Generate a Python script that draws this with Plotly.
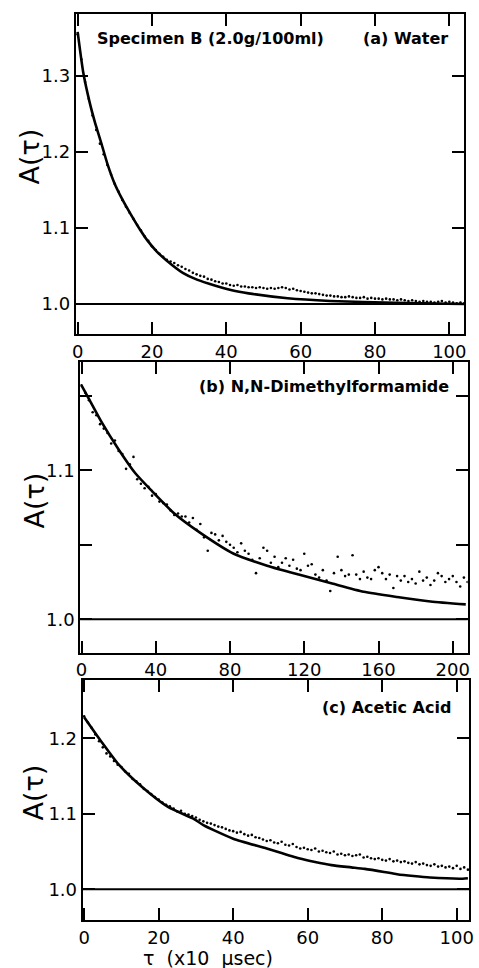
import plotly.graph_objects as go

FONT = "DejaVu Sans"

# ---------------- Panel (a) Water ----------------
a_fit_x = [0, 1.5, 3.3, 4.6, 6.4, 8.1, 9.9, 12.1, 14.3, 16.9, 18.7, 21.3, 24, 28.3,
           32.1, 37.1, 41.5, 46, 56.5, 67.9, 85.5, 104]
a_fit_y = [1.358, 1.305, 1.264, 1.240, 1.211, 1.183, 1.159, 1.137, 1.118, 1.097, 1.084,
           1.069, 1.057, 1.041, 1.032, 1.024, 1.018, 1.014, 1.0075, 1.004, 1.0015, 1.0]
a_dot_x = list(range(0, 105))
a_dot_y = [1.355, 1.322, 1.292, 1.270, 1.248, 1.229, 1.211, 1.197, 1.183, 1.170,
           1.158, 1.148, 1.137, 1.128, 1.120, 1.112, 1.104, 1.097, 1.089, 1.083,
           1.076, 1.071, 1.066, 1.062, 1.058, 1.056, 1.054, 1.051, 1.049, 1.046,
           1.044, 1.041, 1.039, 1.037, 1.036, 1.033, 1.032, 1.030, 1.029, 1.027,
           1.027, 1.025, 1.024, 1.025, 1.023, 1.023, 1.022, 1.022, 1.021, 1.022,
           1.021, 1.020, 1.021, 1.020, 1.021, 1.022, 1.021, 1.019, 1.020, 1.018,
           1.017, 1.016, 1.015, 1.014, 1.014, 1.013, 1.012, 1.011, 1.011, 1.010,
           1.010, 1.009, 1.009, 1.010, 1.009, 1.008, 1.008, 1.009, 1.007, 1.008,
           1.007, 1.007, 1.006, 1.007, 1.006, 1.006, 1.005, 1.006, 1.005, 1.004,
           1.005, 1.004, 1.003, 1.004, 1.003, 1.003, 1.002, 1.003, 1.004, 1.002,
           1.003, 1.002, 1.001, 1.002, 1.001]
a_xticks = [0, 20, 40, 60, 80, 100]
a_yticks = [1.0, 1.1, 1.2, 1.3]
a_yticktext = ["1.0", "1.1", "1.2", "1.3"]

# ---------------- Panel (b) N,N-Dimethylformamide ----------------
b_fit_x = [0, 4, 11, 20, 29, 38, 50, 64, 82, 100, 117, 135, 152, 170, 188, 207]
b_fit_y = [1.157, 1.148, 1.132, 1.114, 1.098, 1.086, 1.071, 1.058, 1.044, 1.036,
           1.030, 1.024, 1.0185, 1.015, 1.012, 1.010]
b_dot_x = list(range(0, 209, 2))
b_dot_y = [1.157, 1.152, 1.147, 1.139, 1.137, 1.131, 1.128, 1.125, 1.118, 1.120,
           1.113, 1.111, 1.101, 1.104, 1.109, 1.094, 1.091, 1.088, 1.089, 1.083,
           1.084, 1.079, 1.078, 1.077, 1.073, 1.070, 1.071, 1.069, 1.069, 1.065,
           1.068, 1.060, 1.064, 1.055, 1.046, 1.058, 1.057, 1.053, 1.056, 1.052,
           1.050, 1.048, 1.045, 1.051, 1.046, 1.044, 1.040, 1.031, 1.041, 1.048,
           1.046, 1.038, 1.042, 1.035, 1.038, 1.041, 1.036, 1.040, 1.034, 1.033,
           1.044, 1.036, 1.037, 1.030, 1.028, 1.033, 1.026, 1.019, 1.031, 1.042,
           1.033, 1.029, 1.030, 1.043, 1.030, 1.027, 1.032, 1.028, 1.027, 1.033,
           1.035, 1.031, 1.027, 1.030, 1.021, 1.029, 1.026, 1.029, 1.025, 1.027,
           1.024, 1.032, 1.026, 1.028, 1.023, 1.026, 1.031, 1.029, 1.025, 1.027,
           1.029, 1.025, 1.022, 1.028, 1.025]
b_xticks = [0, 40, 80, 120, 160, 200]
b_yticks = [1.0, 1.05, 1.1, 1.15]
b_yticktext = ["1.0", "", "1.1", ""]

# ---------------- Panel (c) Acetic Acid ----------------
c_fit_x = [0, 5, 9.3, 15.4, 22.5, 29.5, 32, 40, 49, 57.6, 62, 66.4, 71.7, 75.3,
           80.5, 84, 88.4, 92.8, 101.6, 103]
c_fit_y = [1.228, 1.193, 1.165, 1.136, 1.109, 1.093, 1.085, 1.067, 1.054, 1.041,
           1.036, 1.032, 1.029, 1.027, 1.023, 1.020, 1.0175, 1.0155, 1.014, 1.0145]
c_dot_x = list(range(0, 104))
c_dot_y = [1.229, 1.221, 1.214, 1.205, 1.196, 1.188, 1.180, 1.176, 1.170, 1.165,
           1.162, 1.156, 1.153, 1.146, 1.143, 1.139, 1.133, 1.130, 1.126, 1.122,
           1.119, 1.115, 1.112, 1.110, 1.107, 1.103, 1.104, 1.100, 1.099, 1.097,
           1.095, 1.092, 1.090, 1.088, 1.087, 1.085, 1.083, 1.082, 1.080, 1.078,
           1.077, 1.075, 1.076, 1.073, 1.071, 1.072, 1.069, 1.068, 1.066, 1.064,
           1.065, 1.062, 1.061, 1.063, 1.059, 1.058, 1.060, 1.056, 1.054, 1.055,
           1.053, 1.052, 1.054, 1.050, 1.051, 1.049, 1.048, 1.050, 1.046, 1.047,
           1.045, 1.046, 1.044, 1.045, 1.046, 1.042, 1.043, 1.041, 1.040, 1.041,
           1.039, 1.038, 1.040, 1.037, 1.038, 1.036, 1.037, 1.035, 1.034, 1.036,
           1.033, 1.034, 1.032, 1.031, 1.033, 1.030, 1.031, 1.029, 1.030, 1.028,
           1.031, 1.027, 1.029, 1.026]
c_xticks = [0, 20, 40, 60, 80, 100]
c_yticks = [1.0, 1.1, 1.2]
c_yticktext = ["1.0", "1.1", "1.2"]

W, H = 479, 968

fig = go.Figure()
panels = [
    (a_dot_x, a_dot_y, a_fit_x, a_fit_y, "x", "y"),
    (b_dot_x, b_dot_y, b_fit_x, b_fit_y, "x2", "y2"),
    (c_dot_x, c_dot_y, c_fit_x, c_fit_y, "x3", "y3"),
]
for dx, dy, fx, fy, xa, ya in panels:
    fig.add_trace(go.Scatter(x=dx, y=dy, mode="markers", xaxis=xa, yaxis=ya,
                             marker=dict(size=2.6, color="black"), hoverinfo="skip"))
    fig.add_trace(go.Scatter(x=fx, y=fy, mode="lines", xaxis=xa, yaxis=ya,
                             line=dict(color="black", width=2.6, shape="spline", smoothing=0.6),
                             hoverinfo="skip"))
    fig.add_shape(type="line", xref=f"{xa} domain", yref=ya, x0=0, x1=1, y0=1.0, y1=1.0,
                  line=dict(color="black", width=2))

common = dict(showline=True, linecolor="black", linewidth=2, mirror="allticks",
              ticks="inside", ticklen=12, tickwidth=2, tickcolor="black",
              showgrid=False, zeroline=False,
              tickfont=dict(family=FONT, size=18, color="black"))

def px_x(p):
    return p / W

def px_y(p):
    return 1 - p / H

fig.update_layout(
    width=W, height=H, margin=dict(l=0, r=0, t=0, b=0),
    paper_bgcolor="white", plot_bgcolor="white", showlegend=False,
    xaxis=dict(domain=[px_x(73), px_x(468)], range=[-0.5, 104], anchor="y",
               tickvals=a_xticks, **common),
    yaxis=dict(domain=[px_y(334), px_y(14)], range=[0.9605, 1.3816], anchor="x",
               tickvals=a_yticks, ticktext=a_yticktext, **common),
    xaxis2=dict(domain=[px_x(77.5), px_x(471.5)], range=[-0.7, 208], anchor="y2",
                tickvals=b_xticks, **common),
    yaxis2=dict(domain=[px_y(652.7), px_y(361.7)], range=[0.9776, 1.1729], anchor="x2",
                tickvals=b_yticks, ticktext=b_yticktext, **common),
    xaxis3=dict(domain=[px_x(80), px_x(473.3)], range=[-0.4, 103.4], anchor="y3",
                tickvals=c_xticks, **common),
    yaxis3=dict(domain=[px_y(920), px_y(680)], range=[0.9593, 1.2772], anchor="x3",
                tickvals=c_yticks, ticktext=c_yticktext, **common),
)

def note(text, x, y, xanchor, size=16, angle=0):
    fig.add_annotation(text=text, xref="paper", yref="paper", x=px_x(x), y=px_y(y),
                       xanchor=xanchor, yanchor="middle", showarrow=False, textangle=angle,
                       font=dict(family=FONT, size=size, color="black"))

note("<b>Specimen B (2.0g/100ml)</b>", 93, 38, "left", 16)
note("<b>(a) Water</b>", 454, 38, "right", 16)
note("<b>(b) N,N-Dimethylformamide</b>", 455, 387, "right", 16)
note("<b>(c) Acetic Acid</b>", 457, 707, "right", 16)
note("A(τ)", 25, 157, "center", 27, -90)
note("A(τ)", 32, 500, "center", 27, -90)
note("A(τ)", 30, 792, "center", 27, -90)
note("τ  (x10  μsec)", 207, 958, "center", 19)

fig.write_html("out.html", config={"displayModeBar": False},
               post_script="document.body.style.margin='0';document.body.style.overflow='hidden';")
